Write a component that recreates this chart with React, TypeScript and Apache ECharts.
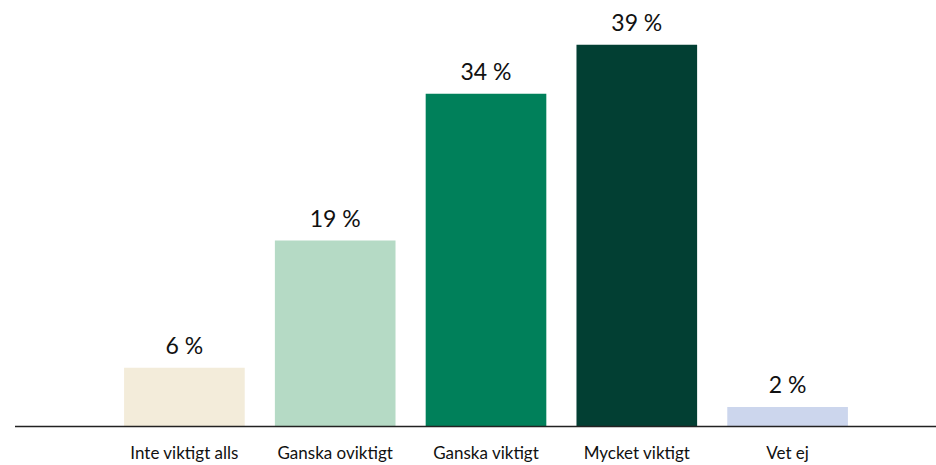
import React, { useEffect, useRef } from "react";
import * as echarts from "echarts";

const categories = ["Inte viktigt alls", "Ganska oviktigt", "Ganska viktigt", "Mycket viktigt", "Vet ej"];
const values = [6, 19, 34, 39, 2];
const barColors = ["#F3ECDA", "#B5DAC5", "#00805A", "#023F33", "#CCD6ED"];

export default function App() {
  const ref = useRef<HTMLDivElement>(null);
  useEffect(() => {
    if (!ref.current) return;
    const chart = echarts.init(ref.current, null, { renderer: "svg" });
    const W = 936, H = 465;
    const bottom = 38.5;
    chart.setOption({
      animation: false,
      grid: { left: 109, right: 73, top: 34.9, bottom },
      xAxis: {
        type: "category",
        data: categories,
        axisLine: { show: false },
        axisTick: { show: false },
        axisLabel: { color: "#111", fontSize: 17, fontFamily: "Lato", margin: 17 },
      },
      yAxis: { type: "value", min: 0, max: 40, show: false, splitLine: { show: false } },
      series: [
        {
          type: "bar",
          data: values.map((v, i) => ({ value: v, itemStyle: { color: barColors[i] } })),
          barCategoryGap: "20%",
          label: {
            show: true,
            position: "top",
            distance: 11,
            formatter: (p: any) => `${p.value} %`,
            color: "#111",
            fontSize: 23,
            fontFamily: "Lato",
          },
        },
      ],
      graphic: [
        {
          type: "line",
          shape: { x1: 15, y1: H - bottom, x2: W, y2: H - bottom },
          style: { stroke: "#222", lineWidth: 1.5 },
          z: 10,
        },
      ],
    });
    return () => chart.dispose();
  }, []);
  return <div ref={ref} style={{ width: 936, height: 465, position: "absolute", left: 0, top: 0 }} />;
}
